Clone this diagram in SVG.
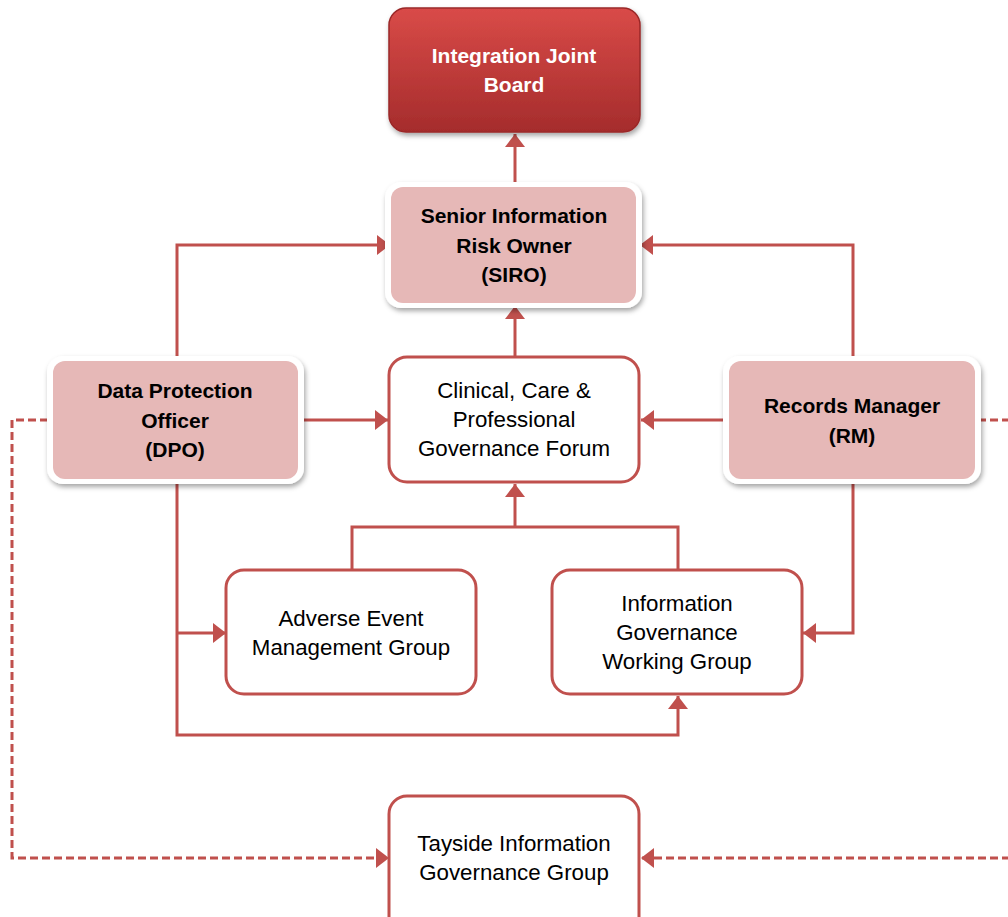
<svg xmlns="http://www.w3.org/2000/svg" width="1008" height="917" viewBox="0 0 1008 917">
<defs>
<linearGradient id="gRed" x1="0" y1="0" x2="0" y2="1">
<stop offset="0" stop-color="#d94b48"/>
<stop offset="1" stop-color="#a52c2c"/>
</linearGradient>
<filter id="sh" x="-10%" y="-10%" width="125%" height="130%">
<feDropShadow dx="1.5" dy="3" stdDeviation="2.5" flood-color="#000" flood-opacity="0.35"/>
</filter>
<marker id="ah" viewBox="0 0 13 20" refX="13" refY="10" markerWidth="13" markerHeight="20" orient="auto" markerUnits="userSpaceOnUse">
<path d="M0,0 L13,10 L0,20 z" fill="#c0504d"/>
</marker>
</defs>
<style>
.bold{font-family:"Liberation Sans",Arial,sans-serif;font-weight:bold;font-size:21px;text-anchor:middle;fill:#000}
.white{fill:#fff}
.reg{font-family:"Liberation Sans",Arial,sans-serif;font-size:22.3px;text-anchor:middle;fill:#000}
.outer{fill:#fff;filter:url(#sh)}
.pink{fill:#e6b8b7}
.box{fill:#fff;stroke:#c0504d;stroke-width:3}
.con{fill:none;stroke:#c0504d;stroke-width:3}
.dash{stroke-dasharray:8 4}
</style>
<rect width="1008" height="917" fill="#fff"/>
<g id="connectors">
<path class="con" d="M515,183 L515,134" marker-end="url(#ah)"/>
<path class="con" d="M177,357 L177,245 L390,245" marker-end="url(#ah)"/>
<path class="con" d="M853,357 L853,245 L640,245" marker-end="url(#ah)"/>
<path class="con" d="M515,357 L515,306" marker-end="url(#ah)"/>
<path class="con" d="M302,420 L388,420" marker-end="url(#ah)"/>
<path class="con" d="M726,420 L641,420" marker-end="url(#ah)"/>
<path class="con" d="M352,570 L352,527 L678,527 L678,570"/>
<path class="con" d="M515,527 L515,484" marker-end="url(#ah)"/>
<path class="con" d="M177,484 L177,735 L678,735 L678,696" marker-end="url(#ah)"/>
<path class="con" d="M177,633 L226,633" marker-end="url(#ah)"/>
<path class="con" d="M853,484 L853,633 L803,633" marker-end="url(#ah)"/>
<path class="con dash" d="M48,420 L12,420 L12,858 L389,858" marker-end="url(#ah)"/>
<path class="con dash" d="M978,420 L1008,420"/>
<path class="con dash" d="M1010,858 L641,858" marker-end="url(#ah)"/>
</g>
<g id="ijb">
<rect x="389" y="8" width="251" height="124" rx="17" fill="url(#gRed)" stroke="#9a2828" stroke-width="1.5" filter="url(#sh)"/>
<text class="bold white" x="514" y="63">Integration Joint</text>
<text class="bold white" x="514" y="92">Board</text>
</g>
<g id="siro">
<rect class="outer" x="385" y="182" width="257" height="126" rx="16"/>
<rect class="pink" x="391" y="187" width="245" height="116" rx="12"/>
<text class="bold" x="514" y="223">Senior Information</text>
<text class="bold" x="514" y="253">Risk Owner</text>
<text class="bold" x="514" y="282">(SIRO)</text>
</g>
<g id="dpo">
<rect class="outer" x="47" y="356" width="257" height="128" rx="16"/>
<rect class="pink" x="53" y="361" width="245" height="118" rx="12"/>
<text class="bold" x="175" y="398">Data Protection</text>
<text class="bold" x="175" y="428">Officer</text>
<text class="bold" x="175" y="457">(DPO)</text>
</g>
<g id="rm">
<rect class="outer" x="723" y="356" width="258" height="128" rx="16"/>
<rect class="pink" x="729" y="361" width="246" height="118" rx="12"/>
<text class="bold" x="852" y="413">Records Manager</text>
<text class="bold" x="852" y="443">(RM)</text>
</g>
<g id="clinical">
<rect class="box" x="389" y="357" width="250" height="125" rx="18"/>
<text class="reg" x="514" y="398">Clinical, Care &amp;</text>
<text class="reg" x="514" y="427">Professional</text>
<text class="reg" x="514" y="456">Governance Forum</text>
</g>
<g id="aemg">
<rect class="box" x="226" y="570" width="250" height="124" rx="18"/>
<text class="reg" x="351" y="626">Adverse Event</text>
<text class="reg" x="351" y="655">Management Group</text>
</g>
<g id="igwg">
<rect class="box" x="552" y="570" width="250" height="124" rx="18"/>
<text class="reg" x="677" y="611">Information</text>
<text class="reg" x="677" y="640">Governance</text>
<text class="reg" x="677" y="669">Working Group</text>
</g>
<g id="tayside">
<rect class="box" x="389" y="796" width="250" height="150" rx="18"/>
<text class="reg" x="514" y="851">Tayside Information</text>
<text class="reg" x="514" y="880">Governance Group</text>
</g>
</svg>
